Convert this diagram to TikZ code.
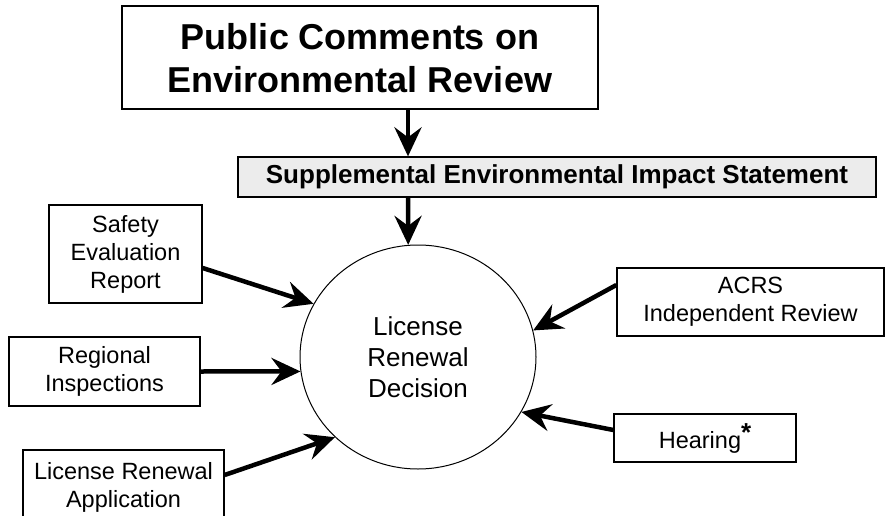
\documentclass[tikz,border=0pt]{standalone}
\usepackage{fontspec}
\setmainfont{Liberation Sans}
\usetikzlibrary{arrows.meta,shapes.geometric}

\tikzset{
  box/.style={draw,line width=1.3pt,align=center,inner sep=0pt,font=\fontsize{23.5}{28}\selectfont},
  feed/.style={line width=4.5pt,-{Stealth[length=29pt,width=27pt,inset=10pt]}}
}

\begin{document}
\begin{tikzpicture}[x=1pt,y=1pt]
            \useasboundingbox (0,0) rectangle (886,515);
            \clip (0,0) rectangle (886,515);
            \node[box,line width=2pt,minimum width=476,minimum height=103,font=\fontsize{36}{43}\selectfont\bfseries] (pub) at (360,457){Public Comments on\\Environmental Review};
            \node[box,fill=gray!15,minimum width=638,minimum height=40,font=\fontsize{26}{30}\selectfont\bfseries] (seis) at (557,338){Supplemental Environmental Impact Statement};
            \node[draw,ellipse,line width=1pt,minimum width=236,minimum height=224,align=center,inner sep=0pt,font=\fontsize{26}{31}\selectfont] (dec) at (418,158){License\\Renewal\\Decision};
            \node[box,minimum width=153,minimum height=98] (ser) at (125.5,261){Safety\\Evaluation\\Report};
            \node[box,minimum width=191,minimum height=69] (reg) at (104.5,143.5){Regional\\Inspections};
            \node[box,minimum width=201,minimum height=74] (lra) at (123.5,28){License Renewal\\Application};
            \node[box,minimum width=267,minimum height=68] (acrs) at (750.5,213){ACRS\\Independent Review};
            \node[box,minimum width=182,minimum height=48] (hear) at (705,77){Hearing\raisebox{7pt}{\fontsize{26}{26}\selectfont\bfseries *}};
            \coordinate (axis) at (408,0);

            \draw[feed] (pub.south -| axis) -- (seis.north -| axis);
            \draw[feed] (seis.south -| axis) -- (dec.95);
            \draw[feed] ([yshift=-14]ser.east) -- (dec.153);
            \draw[feed] (reg.east) -- (dec.187);
            \draw[feed] ([yshift=12]lra.east) -- (dec.224);
            \draw[feed] ([yshift=17]acrs.west) -- (dec.13);
            \draw[feed] ([yshift=8]hear.west) -- (dec.-28);
        \end{tikzpicture}
\end{document}
